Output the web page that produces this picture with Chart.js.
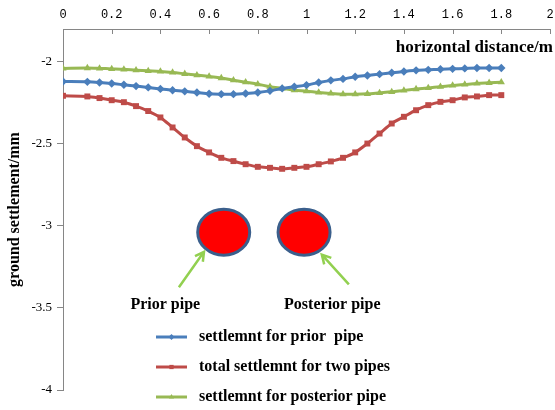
<!DOCTYPE html>
<html>
<head>
<meta charset="utf-8">
<script src="https://cdn.jsdelivr.net/npm/chart.js@4.4.1/dist/chart.umd.min.js"></script>
<style>
  html, body { margin: 0; padding: 0; background: #fff; }
  #wrap { width: 555px; height: 410px; }
</style>
</head>
<body>
<div id="wrap"><canvas id="chart"></canvas></div>
<script>
// horizontal distance (m) of every computed point
const distance = [0, 0.1, 0.15, 0.2, 0.25, 0.3, 0.35, 0.4, 0.45, 0.5, 0.55, 0.6, 0.65, 0.7, 0.75, 0.8, 0.85, 0.9,
  0.95, 1.0, 1.05, 1.1, 1.15, 1.2, 1.25, 1.3, 1.35, 1.4, 1.45, 1.5, 1.55, 1.6, 1.65, 1.7, 1.75, 1.8];

// ground settlement (mm)
const priorPipe = [-2.120, -2.122, -2.126, -2.132, -2.140, -2.148, -2.156, -2.165, -2.173, -2.180, -2.187, -2.195,
  -2.197, -2.197, -2.193, -2.187, -2.177, -2.162, -2.152, -2.142, -2.126, -2.113, -2.104, -2.091, -2.083, -2.075,
  -2.067, -2.059, -2.052, -2.049, -2.045, -2.043, -2.040, -2.038, -2.038, -2.038];
const totalBoth = [-2.207, -2.211, -2.221, -2.234, -2.246, -2.270, -2.300, -2.339, -2.400, -2.461, -2.514, -2.552,
  -2.585, -2.605, -2.624, -2.640, -2.646, -2.652, -2.646, -2.640, -2.624, -2.607, -2.585, -2.552, -2.498, -2.437,
  -2.376, -2.335, -2.295, -2.264, -2.244, -2.234, -2.217, -2.211, -2.203, -2.203];
const posteriorPipe = [-2.040, -2.038, -2.040, -2.043, -2.046, -2.051, -2.055, -2.059, -2.065, -2.073, -2.081, -2.089,
  -2.099, -2.112, -2.124, -2.136, -2.152, -2.162, -2.173, -2.179, -2.187, -2.193, -2.197, -2.197, -2.195, -2.189,
  -2.183, -2.174, -2.166, -2.159, -2.152, -2.144, -2.138, -2.132, -2.128, -2.124];

const seriesNames = ['settlemnt for prior  pipe', 'total settlemnt for two pipes', 'settlemnt for posterior pipe'];
const xTicks = [0, 0.2, 0.4, 0.6, 0.8, 1, 1.2, 1.4, 1.6, 1.8, 2];
const yTicks = [-4, -3.5, -3, -2.5, -2];

const serif = '"Liberation Serif", "Times New Roman", serif';
const axisGray = '#868686';

// sketch of the two pipes under the profile (placed in data units)
const pipes = [
  { x: 0.66, y: -3.038, label: 'Prior pipe', labelX: 0.42, arrow: [[0.476, -3.374], [0.579, -3.158]] },
  { x: 0.99, y: -3.038, label: 'Posterior pipe', labelX: 1.106, arrow: [[1.174, -3.356], [1.063, -3.175]] }
];

const toPoints = vals => vals.map((v, i) => ({ x: distance[i], y: v }));

function arrow(ctx, x0, y0, x1, y1) {
  const a = Math.atan2(y1 - y0, x1 - x0);
  const h = 10;
  ctx.beginPath();
  ctx.moveTo(x0, y0);
  ctx.lineTo(x1, y1);
  ctx.moveTo(x1 - h * Math.cos(a - 0.5), y1 - h * Math.sin(a - 0.5));
  ctx.lineTo(x1, y1);
  ctx.lineTo(x1 - h * Math.cos(a + 0.5), y1 - h * Math.sin(a + 0.5));
  ctx.stroke();
}

const overlay = {
  id: 'overlay',
  afterDraw(chart) {
    const { ctx, chartArea, scales: { x, y } } = chart;
    ctx.save();

    // small x ticks pointing into the plot
    ctx.strokeStyle = axisGray;
    ctx.lineWidth = 1;
    xTicks.forEach(v => {
      const px = Math.round(x.getPixelForValue(v)) + 0.5;
      ctx.beginPath();
      ctx.moveTo(px, chartArea.top);
      ctx.lineTo(px, chartArea.top + 5);
      ctx.stroke();
    });

    ctx.fillStyle = '#000';
    ctx.font = 'bold 17px ' + serif;
    ctx.textAlign = 'right';
    ctx.textBaseline = 'middle';
    ctx.fillText('horizontal distance/m', chartArea.right + 3, chartArea.top + 19);

    // pipes, arrows and their names
    pipes.forEach(p => {
      const cx = x.getPixelForValue(p.x), cy = y.getPixelForValue(p.y);
      ctx.beginPath();
      ctx.ellipse(cx, cy, 26, 23, 0, 0, Math.PI * 2);
      ctx.fillStyle = '#ff0000';
      ctx.fill();
      ctx.lineWidth = 3;
      ctx.strokeStyle = '#3b5f8c';
      ctx.stroke();

      ctx.strokeStyle = '#92d050';
      ctx.lineWidth = 2.5;
      arrow(ctx, x.getPixelForValue(p.arrow[0][0]), y.getPixelForValue(p.arrow[0][1]),
        x.getPixelForValue(p.arrow[1][0]), y.getPixelForValue(p.arrow[1][1]));

      ctx.fillStyle = '#000';
      ctx.font = 'bold 16px ' + serif;
      ctx.textAlign = 'center';
      ctx.fillText(p.label, x.getPixelForValue(p.labelX), y.getPixelForValue(-3.484));
    });

    // legend sitting inside the plot, bottom middle
    const lx = chartArea.left + 93;
    chart.data.datasets.forEach((ds, i) => {
      const ly = chartArea.top + 308 + i * 30;
      ctx.strokeStyle = ds.borderColor;
      ctx.lineWidth = 3;
      ctx.beginPath();
      ctx.moveTo(lx, ly);
      ctx.lineTo(lx + 31, ly);
      ctx.stroke();
      if (Chart.helpers && Chart.helpers.drawPoint) {
        ctx.fillStyle = ds.borderColor;
        Chart.helpers.drawPoint(ctx, { pointStyle: ds.pointStyle, radius: 3, rotation: 0, borderWidth: 0 }, lx + 15.5, ly);
      }
      ctx.fillStyle = '#000';
      ctx.font = 'bold 16px ' + serif;
      ctx.textAlign = 'left';
      ctx.fillText(ds.label, lx + 43, ly);
    });

    ctx.restore();
  }
};

const lineStyle = (color, style) => ({
  borderColor: color,
  backgroundColor: color,
  pointBackgroundColor: color,
  pointBorderColor: color,
  pointStyle: style,
  pointRadius: 4.2,
  pointBorderWidth: 0,
  borderWidth: 3,
  tension: 0.3,
  fill: false
});

new Chart(document.getElementById('chart'), {
  type: 'line',
  data: {
    datasets: [
      { label: seriesNames[0], data: toPoints(priorPipe), ...lineStyle('#4a7ebb', 'rectRot') },
      { label: seriesNames[1], data: toPoints(totalBoth), ...lineStyle('#be4b48', 'rect') },
      { label: seriesNames[2], data: toPoints(posteriorPipe), ...lineStyle('#98b954', 'triangle') }
    ]
  },
  options: {
    responsive: true,
    maintainAspectRatio: false,
    animation: false,
    layout: { padding: { left: 0, right: 5, top: 0, bottom: 20 } },
    plugins: { legend: { display: false }, tooltip: { enabled: false } },
    scales: {
      x: {
        type: 'linear',
        position: 'top',
        min: 0,
        max: 2,
        afterBuildTicks: s => { s.ticks = xTicks.map(v => ({ value: v })); },
        afterFit: s => { s.height = 29; s.paddingLeft = 0; s.paddingRight = 0; },
        grid: { drawOnChartArea: false, drawTicks: false },
        border: { color: axisGray },
        ticks: {
          padding: 7,
          maxRotation: 0,
          color: '#000',
          font: { family: '"Liberation Mono", monospace', size: 12 },
          callback: v => String(Number(v.toFixed(2)))
        }
      },
      y: {
        min: -4,
        max: -1.8,
        afterBuildTicks: s => { s.ticks = yTicks.map(v => ({ value: v })); },
        afterFit: s => { s.width = 63; },
        grid: { drawOnChartArea: false, drawTicks: true, tickLength: 6, color: axisGray },
        border: { color: axisGray },
        title: {
          display: true,
          text: 'ground settlement/mm',
          color: '#000',
          font: { family: serif, size: 16, weight: 'bold' },
          padding: { top: 5, bottom: 0 }
        },
        ticks: {
          padding: 5,
          color: '#000',
          font: { family: serif, size: 13 },
          callback: v => String(Number(v.toFixed(2)))
        }
      }
    }
  },
  plugins: [overlay]
});
</script>
</body>
</html>
